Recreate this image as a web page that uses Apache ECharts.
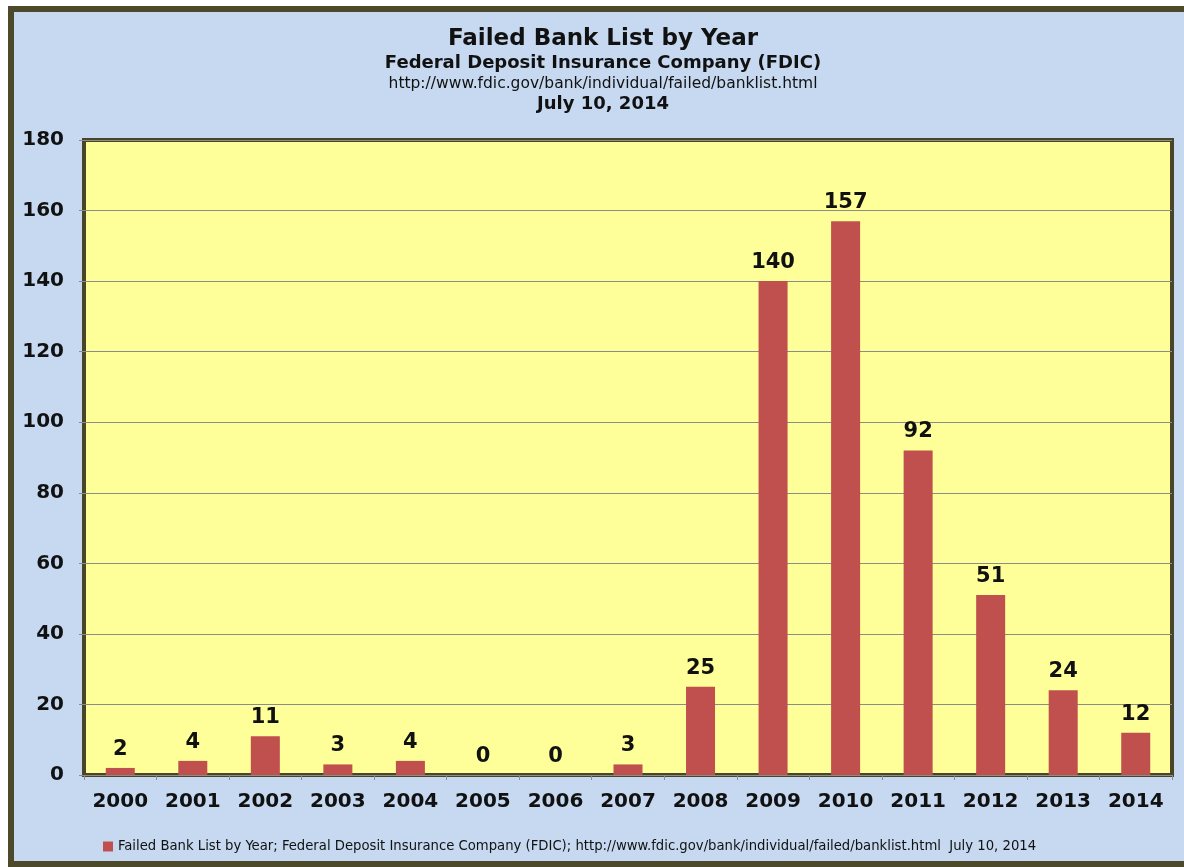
<!DOCTYPE html>
<html>
<head>
<meta charset="utf-8">
<script src="https://cdn.jsdelivr.net/npm/echarts@6/dist/echarts.min.js"></script>
<style>
  html, body { margin: 0; padding: 0; background: #ffffff; overflow: hidden; }
  #main {
    position: absolute; left: 8px; top: 6px;
    width: 1190px; height: 849px;
    border: 6px solid #4d4a2b;
    background: #c6d9f0;
  }
</style>
</head>
<body>
<div id="main"></div>
<script>
var years = ["2000","2001","2002","2003","2004","2005","2006","2007","2008","2009","2010","2011","2012","2013","2014"];
var failedBanks = [2, 4, 11, 3, 4, 0, 0, 3, 25, 140, 157, 92, 51, 24, 12];
var seriesName = "Failed Bank List by Year; Federal Deposit Insurance Company (FDIC); http://www.fdic.gov/bank/individual/failed/banklist.html  July 10, 2014";
var titleLines = ["Failed Bank List by Year", "Federal Deposit Insurance Company (FDIC)", "http://www.fdic.gov/bank/individual/failed/banklist.html", "July 10, 2014"];

var myChart = echarts.init(document.getElementById("main"));
var font = "DejaVu Sans, Verdana, sans-serif";
var option = {
    animation: false,
    graphic: [
        {type: "text", x: 589, y: 27, style: {text: titleLines[0], font: "bold 23px " + font, fill: "#111", textAlign: "center", textVerticalAlign: "middle"}},
        {type: "text", x: 589, y: 51, style: {text: titleLines[1], font: "bold 18px " + font, fill: "#111", textAlign: "center", textVerticalAlign: "middle"}},
        {type: "text", x: 589, y: 72, style: {text: titleLines[2], font: "15.5px " + font, fill: "#111", textAlign: "center", textVerticalAlign: "middle"}},
        {type: "text", x: 589, y: 92, style: {text: titleLines[3], font: "bold 18px " + font, fill: "#111", textAlign: "center", textVerticalAlign: "middle"}}
    ],
    legend: {
        data: [seriesName],
        left: 84,
        top: 822,
        icon: "rect",
        itemWidth: 10,
        itemHeight: 10,
        itemGap: 4,
        textStyle: {fontFamily: "Liberation Sans Narrow, DejaVu Sans Condensed, sans-serif", fontSize: 14.7, color: "#111"}
    },
    grid: {
        left: 70,
        top: 128,
        right: 32,
        bottom: 86,
        show: true,
        backgroundColor: "#ffff99",
        borderColor: "#4a4526",
        borderWidth: 4
    },
    xAxis: {
        type: "category",
        data: years,
        axisLine: {show: false},
        axisTick: {show: true, length: 5, lineStyle: {color: "#8c8c8c"}},
        axisLabel: {fontFamily: font, fontWeight: "bold", fontSize: 20, color: "#111", margin: 17}
    },
    yAxis: {
        type: "value",
        min: 0,
        max: 180,
        interval: 20,
        axisLine: {show: false},
        axisTick: {show: true, length: 5, lineStyle: {color: "#8c8c8c"}},
        splitLine: {lineStyle: {color: "#8c8c8c", width: 1}},
        axisLabel: {fontFamily: font, fontWeight: "bold", fontSize: 20, color: "#111", margin: 20}
    },
    series: [{
        name: seriesName,
        type: "bar",
        data: failedBanks,
        barWidth: "40%",
        itemStyle: {color: "#c0504d"},
        label: {
            show: true,
            position: "top",
            distance: 8,
            fontFamily: font,
            fontWeight: "bold",
            fontSize: 21,
            color: "#111"
        }
    }]
};
myChart.setOption(option);
</script>
</body>
</html>
